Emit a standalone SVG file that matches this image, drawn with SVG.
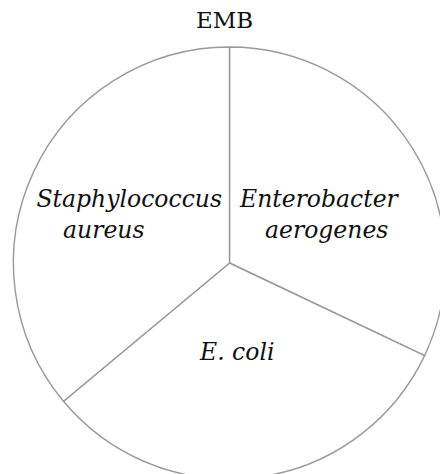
<svg xmlns="http://www.w3.org/2000/svg" width="440" height="474" viewBox="0 0 440 474">
<style>
.slice{fill:#ffffff;stroke:#999999;stroke-width:1.4}
.lbl{font-family:"DejaVu Serif","Liberation Serif",serif;font-style:italic;font-size:23.5px;fill:#111111}
.title{font-family:"DejaVu Serif","Liberation Serif",serif;font-size:23px;fill:#111111}
</style>
<rect width="440" height="474" fill="#ffffff"/>
<text class="title" x="224.5" y="28" text-anchor="middle">EMB</text>
<g id="slice-enterobacter">
<path class="slice" d="M229.5,263 L229.5,47 A216,216 0 0 1 424.6,355.6 Z"/>
<text class="lbl" x="240" y="207">Enterobacter</text>
<text class="lbl" x="265" y="238">aerogenes</text>
</g>
<g id="slice-ecoli">
<path class="slice" d="M229.5,263 L424.6,355.6 A216,216 0 0 1 63.5,401.3 Z"/>
<text class="lbl" x="200" y="360">E. coli</text>
</g>
<g id="slice-staphylococcus">
<path class="slice" d="M229.5,263 L63.5,401.3 A216,216 0 0 1 229.5,47 Z"/>
<text class="lbl" x="36.5" y="207">Staphylococcus</text>
<text class="lbl" x="63" y="238">aureus</text>
</g>
<g id="connectors"/>
</svg>
